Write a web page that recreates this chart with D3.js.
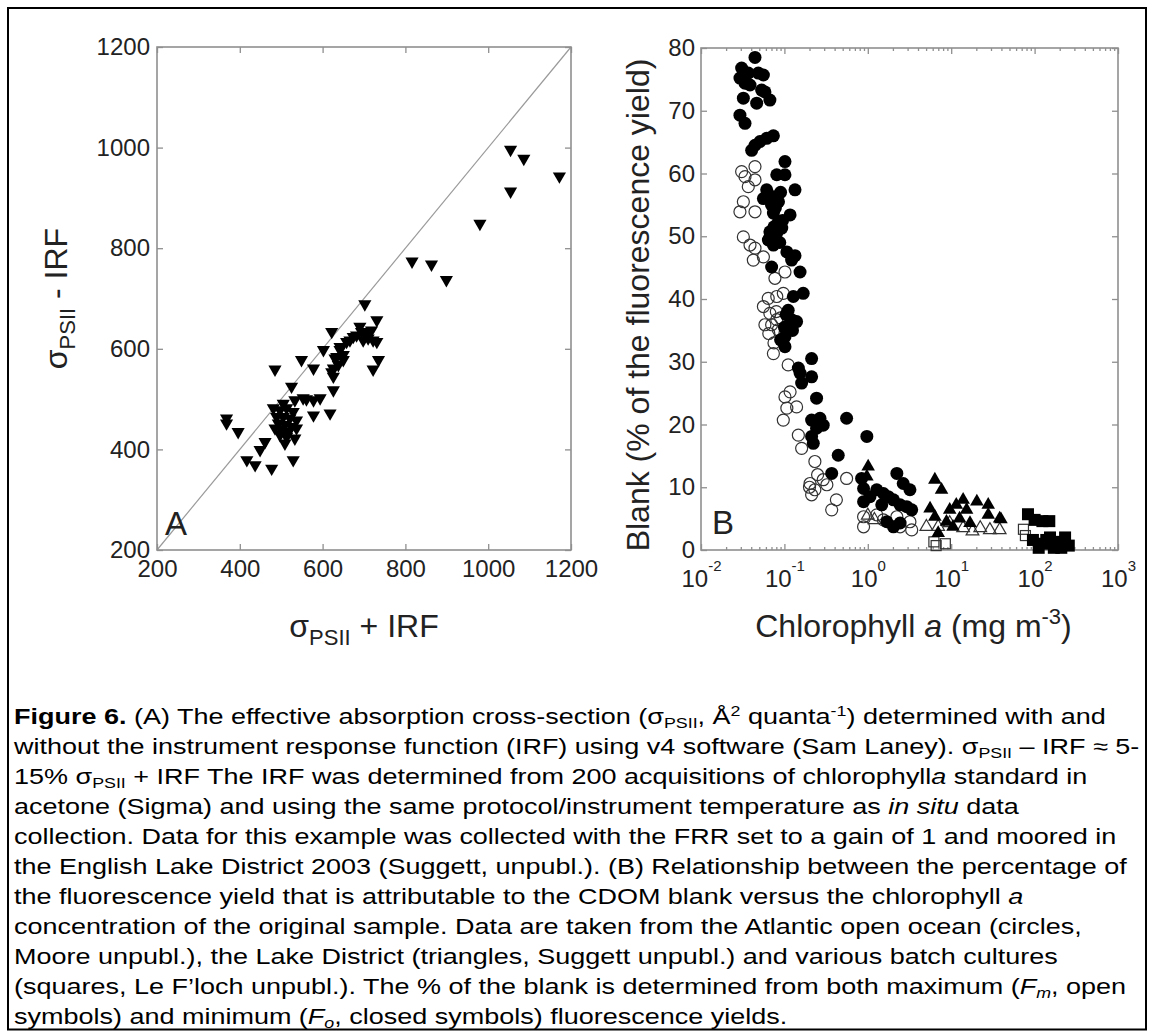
<!DOCTYPE html>
<html>
<head>
<meta charset="utf-8">
<script src="https://cdn.jsdelivr.net/npm/d3@7"></script>
<style>
  body { margin: 0; background: #fff; }
  svg { font-family: "Liberation Sans", Arial, sans-serif; }
</style>
</head>
<body>
<svg id="fig" width="1154" height="1031"></svg>
<script>
// ---- panel A: sigma PSII with (x) and without (y) IRF ----
const ticksA = [200, 400, 600, 800, 1000, 1200];
const triA = [
  [1054,996],[1086,978],[1172,943],[1054,913],[980,849],[816,774],[863,768],[899,737],
  [702,689],[731,657],[622,634],[690,644],[674,624],[706,631],[722,617],[658,614],[731,614],
  [602,598],[642,598],[630,581],[650,588],[549,578],[578,561],[485,559],[622,554],[735,578],[722,559],
  [626,545],[525,525],[626,518],[578,498],[594,502],[553,502],[533,498],[618,472],[578,468],
  [368,462],[368,452],[396,435],[461,415],[449,399],[417,379],[437,369],[477,362],[529,379],
  [509,412],[533,422],[497,478],[513,482],[529,475],[489,465],[505,465],[521,462],[537,458],
  [493,452],[509,449],[525,445],[485,442],[501,439],[517,435],[537,442],[497,429],[513,425],
  [561,500],[481,482],[505,491],[634,584],[642,604],[666,617],[682,627],[694,634],[710,621],
  [718,637],[698,617],[650,578],[638,568],[626,561]
];

// ---- panel B: blank % vs chlorophyll a ----
const ticksBy = [0, 10, 20, 30, 40, 50, 60, 70, 80];
const decadesB = [-2, -1, 0, 1, 2, 3];
const circOpenB = [
  [0.0307,60.3],[0.0444,61.1],[0.0337,59.5],[0.0444,59.0],[0.0369,57.9],[0.0322,55.5],[0.0293,53.9],
  [0.0444,53.9],[0.0322,49.9],[0.0387,48.6],[0.0444,48.1],[0.0424,46.2],[0.056,46.7],[0.077,43.3],
  [0.1016,44.3],[0.064,40.1],[0.056,38.8],[0.081,40.4],[0.097,40.9],[0.067,37.7],[0.0584,35.9],
  [0.0703,35.9],[0.081,36.7],[0.0845,35.1],[0.1016,34.5],[0.0738,31.3],[0.111,29.5],[0.117,25.2],
  [0.1016,24.4],[0.107,22.6],[0.097,20.7],[0.14,22.8],[0.147,18.3],[0.161,16.2],[0.232,14.1],
  [0.203,10.6],[0.232,9.6],[0.292,11.2],[0.323,10.4],[0.212,8.8],[0.557,11.4],[0.42,8.0],[0.369,6.4],
  [0.89,5.3],[0.89,3.7],[1.28,5.6],[1.54,4.8],[2.23,5.3],[3.2,4.5],[3.36,3.2],[2.44,3.7],
  [0.065,34.5],[0.075,33.0],[0.08,38.0],[0.09,37.0],[0.2,10.0],[0.25,12.0]
];
const circFillB = [
  [0.0444,78.5],[0.0307,76.8],[0.0293,75.2],[0.0369,76.0],[0.0487,76.0],[0.056,75.7],[0.0387,74.1],
  [0.0337,74.4],[0.0533,73.3],[0.0584,73.0],[0.067,71.7],[0.0465,71.2],[0.0322,72.0],[0.0293,69.3],
  [0.0337,68.0],[0.0405,63.7],[0.0444,64.5],[0.051,65.1],[0.0613,65.6],[0.0738,66.0],[0.1016,61.9],
  [0.081,59.8],[0.1016,59.8],[0.0613,57.4],[0.134,57.4],[0.056,56.0],[0.0738,56.3],[0.117,53.4],
  [0.0738,53.7],[0.0845,52.3],[0.067,50.7],[0.081,50.5],[0.093,51.3],[0.0642,49.4],[0.0738,48.6],
  [0.067,49.9],[0.107,47.5],[0.134,46.9],[0.122,46.2],[0.154,44.3],[0.0703,45.1],[0.128,40.4],
  [0.168,40.9],[0.111,38.2],[0.122,36.7],[0.14,36.4],[0.1016,34.0],[0.1016,32.4],[0.147,29.0],
  [0.212,30.5],[0.154,28.2],[0.212,27.6],[0.161,26.6],[0.243,24.2],[0.212,20.7],[0.267,21.0],
  [0.292,19.9],[0.243,19.4],[0.212,18.1],[0.222,17.0],[0.557,21.0],[0.442,15.1],[0.369,12.2],
  [0.974,18.1],[0.843,11.4],[0.89,9.8],[0.89,7.7],[1.28,9.6],[1.54,9.0],[1.76,8.5],[2.03,8.0],
  [2.23,12.2],[2.66,10.6],[3.2,9.6],[2.44,7.2],[2.93,6.9],[3.36,6.4],[1.47,7.2],[1.06,8.5],
  [1.69,4.5],[2.03,3.7],[2.44,4.3],
  [0.07,55.0],[0.078,54.5],[0.085,55.5],[0.09,57.0],[0.075,51.5],[0.088,49.0],[0.095,52.5],
  [0.105,37.5],[0.1,35.5],[0.125,35.0],[0.09,33.5]
];
const triOpenB = [
  [6.98,3.7],[13.9,3.5],[22.3,3.5],[38.1,3.2],[29.1,3.2],[9.6,4.3],[5.04,3.7],[1.0,5.5],[1.2,4.8],[18,3.0]
];
const triFillB = [
  [1.01,13.3],[0.974,11.7],[6.37,11.2],[7.66,9.6],[5.58,6.6],[6.37,5.3],[6.98,2.7],[9.6,6.4],[11.5,7.2],
  [13.9,8.0],[15.3,6.4],[12.6,5.0],[20.3,7.7],[27.8,7.2],[27.8,5.6],[38.1,5.0],[8.78,4.5],[16.8,4.3],
  [10.5,3.7],[39.5,4.9]
];
const sqOpenB = [[73.5,3.3],[77.6,2.3],[6.2,1.3],[8.5,1.0],[6.6,0.7]];
const sqFillB = [
  [83.3,5.7],[124,4.6],[95.5,1.6],[124,1.0],[153,2.0],[188,1.3],[232,2.0],[257,0.7],[170,0.35],
  [112,0.35],[209,0.35],[138,1.6],[100,4.8],[150,4.6]
];

// caption, one entry per printed line: [text, style]
const caption = [
  [["Figure 6.", "b"], [" (A) The effective absorption cross-section (σ", ""], ["PSII", "sub"], [", Å", ""], ["2", "sup"], [" quanta", ""], ["-1", "sup"], [") determined with and", ""]],
  [["without the instrument response function (IRF) using v4 software (Sam Laney). σ", ""], ["PSII", "sub"], [" – IRF ≈ 5-", ""]],
  [["15% σ", ""], ["PSII", "sub"], [" + IRF The IRF was determined from 200 acquisitions of chlorophyll", ""], ["a", "i"], [" standard in", ""]],
  [["acetone (Sigma) and using the same protocol/instrument temperature as ", ""], ["in situ", "i"], [" data", ""]],
  [["collection. Data for this example was collected with the FRR set to a gain of 1 and moored in", ""]],
  [["the English Lake District 2003 (Suggett, unpubl.). (B) Relationship between the percentage of", ""]],
  [["the fluorescence yield that is attributable to the CDOM blank versus the chlorophyll ", ""], ["a", "i"]],
  [["concentration of the original sample. Data are taken from the Atlantic open ocean (circles,", ""]],
  [["Moore unpubl.), the Lake District (triangles, Suggett unpubl.) and various batch cultures", ""]],
  [["(squares, Le F’loch unpubl.). The % of the blank is determined from both maximum (", ""], ["F", "i"], ["m", "isub"], [", open", ""]],
  [["symbols) and minimum (", ""], ["F", "i"], ["o", "isub"], [", closed symbols) fluorescence yields.", ""]]
];

const svg = d3.select("#fig");
const AXIS_COL = "#8f8f8f";
const TXT_COL = "#222";
const TICK_FS = 24;
const TITLE_FS = 32;

// outer border
svg.append("rect").attr("x", 8).attr("y", 8).attr("width", 1138).attr("height", 1021.5)
   .attr("fill", "none").attr("stroke", "#000").attr("stroke-width", 2);

function styleAxis(g) {
  g.select(".domain").remove();
  g.selectAll(".tick line").attr("stroke", AXIS_COL).attr("stroke-width", 1.3);
  g.selectAll(".tick text").attr("fill", TXT_COL).attr("font-size", TICK_FS)
   .attr("font-family", "'Liberation Sans', Arial, sans-serif");
}

// ================= panel A =================
const xA = d3.scaleLinear().domain([200, 1200]).range([157, 571]);
const yA = d3.scaleLinear().domain([200, 1200]).range([550, 47]);
const fmtA = d3.format("d");

svg.append("line")
   .attr("x1", xA(200)).attr("y1", yA(200)).attr("x2", xA(1200)).attr("y2", yA(1200))
   .attr("stroke", "#9a9a9a").attr("stroke-width", 1.2);

svg.append("g").attr("transform", `translate(0,${yA(200)})`)
   .call(d3.axisBottom(xA).tickValues(ticksA).tickFormat(fmtA).tickSize(-6).tickPadding(10))
   .call(styleAxis);
svg.append("g").attr("transform", `translate(0,${yA(1200)})`)
   .call(d3.axisTop(xA).tickValues(ticksA).tickSize(-6).tickFormat(""))
   .call(styleAxis);
svg.append("g").attr("transform", `translate(${xA(200)},0)`)
   .call(d3.axisLeft(yA).tickValues(ticksA).tickFormat(fmtA).tickSize(-6).tickPadding(7))
   .call(styleAxis);
svg.append("g").attr("transform", `translate(${xA(1200)},0)`)
   .call(d3.axisRight(yA).tickValues(ticksA).tickSize(-6).tickFormat(""))
   .call(styleAxis);

svg.append("rect").attr("x", xA(200)).attr("y", yA(1200))
   .attr("width", xA(1200) - xA(200)).attr("height", yA(200) - yA(1200))
   .attr("fill", "none").attr("stroke", AXIS_COL).attr("stroke-width", 1.6);

svg.append("g").selectAll("path").data(triA).join("path")
   .attr("d", d3.symbol(d3.symbolTriangle, 75))
   .attr("transform", d => `translate(${xA(d[0])},${yA(d[1])}) rotate(180)`)
   .attr("fill", "#000");

svg.append("text").attr("x", 165).attr("y", 535).attr("font-size", 33).attr("fill", TXT_COL).text("A");

// axis titles A
const tA = svg.append("text").attr("text-anchor", "middle").attr("font-size", TITLE_FS).attr("fill", TXT_COL)
   .attr("transform", `translate(${(xA(200) + xA(1200)) / 2},637)`);
tA.append("tspan").text("σ");
tA.append("tspan").attr("font-size", 22).attr("dy", 8).text("PSII");
tA.append("tspan").attr("dy", -8).text(" + IRF");

const tAy = svg.append("text").attr("text-anchor", "middle").attr("font-size", TITLE_FS).attr("fill", TXT_COL)
   .attr("transform", `translate(67,${(yA(200) + yA(1200)) / 2}) rotate(-90)`);
tAy.append("tspan").text("σ");
tAy.append("tspan").attr("font-size", 22).attr("dy", 8).text("PSII");
tAy.append("tspan").attr("dy", -8).text(" - IRF");

// ================= panel B =================
const xB = d3.scaleLog().domain([1e-2, 1e3]).range([701, 1118]);
const yB = d3.scaleLinear().domain([0, 80]).range([550, 48]);
const majorB = decadesB.map(e => Math.pow(10, e));
const minorB = [];
decadesB.slice(0, -1).forEach(e => { for (let k = 2; k <= 9; k++) minorB.push(k * Math.pow(10, e)); });

svg.append("g").attr("transform", `translate(0,${yB(0)})`)
   .call(d3.axisBottom(xB).tickValues(majorB).tickSize(-6).tickPadding(20))
   .call(styleAxis)
   .call(g => g.selectAll(".tick text").each(function (d) {
      const t = d3.select(this).text(null);
      t.append("tspan").text("10");
      t.append("tspan").attr("font-size", 15).attr("dy", "-1.05em").text(Math.round(Math.log10(d)));
   }));
svg.append("g").attr("transform", `translate(0,${yB(0)})`)
   .call(d3.axisBottom(xB).tickValues(minorB).tickSize(-3).tickFormat(""))
   .call(styleAxis);
svg.append("g").attr("transform", `translate(0,${yB(80)})`)
   .call(d3.axisTop(xB).tickValues(majorB).tickSize(-6).tickFormat(""))
   .call(styleAxis);
svg.append("g").attr("transform", `translate(0,${yB(80)})`)
   .call(d3.axisTop(xB).tickValues(minorB).tickSize(-3).tickFormat(""))
   .call(styleAxis);
svg.append("g").attr("transform", `translate(${xB(1e-2)},0)`)
   .call(d3.axisLeft(yB).tickValues(ticksBy).tickSize(-6).tickPadding(6))
   .call(styleAxis);
svg.append("g").attr("transform", `translate(${xB(1e3)},0)`)
   .call(d3.axisRight(yB).tickValues(ticksBy).tickSize(-6).tickFormat(""))
   .call(styleAxis);

svg.append("rect").attr("x", xB(1e-2)).attr("y", yB(80))
   .attr("width", xB(1e3) - xB(1e-2)).attr("height", yB(0) - yB(80))
   .attr("fill", "none").attr("stroke", AXIS_COL).attr("stroke-width", 1.6);

const mB = svg.append("g");
mB.selectAll("circle.open").data(circOpenB).join("circle").attr("class", "open")
  .attr("cx", d => xB(d[0])).attr("cy", d => yB(d[1])).attr("r", 6)
  .attr("fill", "none").attr("stroke", "#333").attr("stroke-width", 1.2);
mB.selectAll("path.topen").data(triOpenB).join("path").attr("class", "topen")
  .attr("d", d3.symbol(d3.symbolTriangle, 70))
  .attr("transform", d => `translate(${xB(d[0])},${yB(d[1])})`)
  .attr("fill", "none").attr("stroke", "#333").attr("stroke-width", 1.2);
mB.selectAll("rect.sopen").data(sqOpenB).join("rect").attr("class", "sopen")
  .attr("x", d => xB(d[0]) - 5).attr("y", d => yB(d[1]) - 5).attr("width", 10).attr("height", 10)
  .attr("fill", "none").attr("stroke", "#333").attr("stroke-width", 1.2);
mB.selectAll("circle.fill").data(circFillB).join("circle").attr("class", "fill")
  .attr("cx", d => xB(d[0])).attr("cy", d => yB(d[1])).attr("r", 6.5).attr("fill", "#000");
mB.selectAll("path.tfill").data(triFillB).join("path").attr("class", "tfill")
  .attr("d", d3.symbol(d3.symbolTriangle, 80))
  .attr("transform", d => `translate(${xB(d[0])},${yB(d[1])})`)
  .attr("fill", "#000");
mB.selectAll("rect.sfill").data(sqFillB).join("rect").attr("class", "sfill")
  .attr("x", d => xB(d[0]) - 6).attr("y", d => yB(d[1]) - 6).attr("width", 12).attr("height", 12)
  .attr("fill", "#000");

svg.append("text").attr("x", 712).attr("y", 534).attr("font-size", 33).attr("fill", TXT_COL).text("B");

const tB = svg.append("text").attr("text-anchor", "middle").attr("font-size", TITLE_FS).attr("fill", TXT_COL)
   .attr("transform", `translate(${(xB(1e-2) + xB(1e3)) / 2 + 4},637)`);
tB.append("tspan").text("Chlorophyll ");
tB.append("tspan").attr("font-style", "italic").text("a");
tB.append("tspan").text(" (mg m");
tB.append("tspan").attr("font-size", 22).attr("dy", -13).text("-3");
tB.append("tspan").attr("dy", 13).text(")");

svg.append("text").attr("text-anchor", "middle").attr("font-size", TITLE_FS).attr("fill", TXT_COL)
   .attr("transform", `translate(649,${(yB(0) + yB(80)) / 2 + 6}) rotate(-90)`)
   .text("Blank (% of the fluorescence yield)");

// ================= caption =================
// the printed caption is wider than plain Arial at its height, so it is stretched sideways
const capFs = 22, capLh = 30, capStretch = 27 / 22;
const cap = svg.append("g").attr("font-family", "Arial, 'Liberation Sans', sans-serif").attr("fill", "#000")
   .attr("transform", `translate(14,0) scale(${capStretch},1)`);
caption.forEach((line, i) => {
  const t = cap.append("text").attr("x", 0).attr("y", 724 + i * capLh).attr("font-size", capFs);
  let shift = 0;
  line.forEach(([s, st]) => {
    let target = 0;
    const sp = t.append("tspan").text(s);
    if (st === "b") sp.attr("font-weight", "bold");
    if (st === "i" || st === "isub") sp.attr("font-style", "italic");
    if (st === "sub" || st === "isub") { sp.attr("font-size", capFs * 0.66); target = 4; }
    if (st === "sup") { sp.attr("font-size", capFs * 0.66); target = -8; }
    if (target !== shift) { sp.attr("dy", target - shift); shift = target; }
  });
});
</script>
</body>
</html>
